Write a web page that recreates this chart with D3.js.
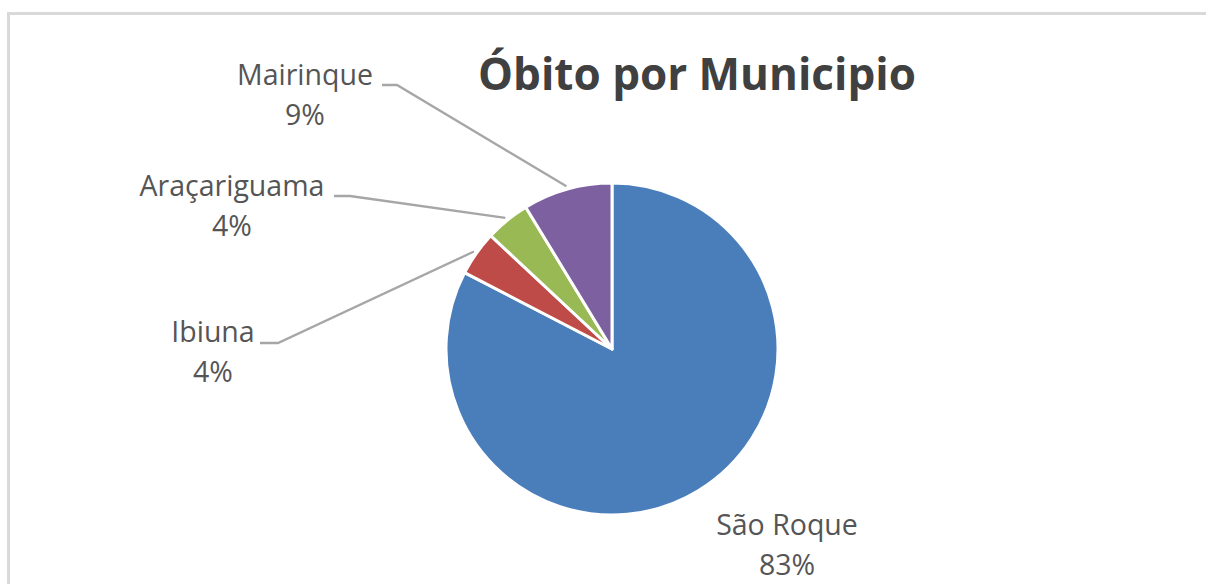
<!DOCTYPE html>
<html>
<head>
<meta charset="utf-8">
<script src="https://cdn.jsdelivr.net/npm/d3@7"></script>
<style>
  body { margin: 0; background: #fff; }
  svg { display: block; }
</style>
</head>
<body>
<div id="chart"></div>
<script>
// data (counts that give 83% / 4% / 4% / 9%)
var municipios = ["São Roque", "Ibiuna", "Araçariguama", "Mairinque"];
var obitos = [19, 1, 1, 2];
var cores = ["#4a7ebb", "#be4b48", "#98b954", "#7d60a0"];
// label anchors and leader-line elbows for each slice
var labelPos = [[787, 535], [213, 342], [232, 196], [305, 85]];
var elbows = [null, [[260, 343], [278, 343]], [[334, 196], [350, 196]], [[382, 85], [397, 85]]];

var width = 1206, height = 584;
var cx = 612, cy = 349, radius = 166;

var svg = d3.select("#chart")
  .append("svg")
  .attr("width", width)
  .attr("height", height);

// chart frame (runs off the right and bottom edges)
svg.append("rect")
  .attr("x", 8.5)
  .attr("y", 13.5)
  .attr("width", 1300)
  .attr("height", 700)
  .attr("fill", "#fff")
  .attr("stroke", "#d9d9d9")
  .attr("stroke-width", 3);

// title
svg.append("text")
  .attr("x", 697)
  .attr("y", 90)
  .attr("text-anchor", "middle")
  .style("font-family", "'Open Sans', sans-serif")
  .style("font-weight", "bold")
  .style("font-size", "44px")
  .style("fill", "#404040")
  .text("Óbito por Municipio");

var total = d3.sum(obitos);
var pct = d3.format(".0%");

var pie = d3.pie().sort(null).value(function(d) { return d; });
var arcs = pie(obitos);

var arc = d3.arc().innerRadius(0).outerRadius(radius);

var g = svg.append("g")
  .attr("transform", "translate(" + cx + "," + cy + ")");

g.selectAll("path")
  .data(arcs)
  .enter()
  .append("path")
  .attr("d", arc)
  .attr("fill", function(d, i) { return cores[i]; })
  .attr("stroke", "#fff")
  .attr("stroke-width", 3)
  .attr("stroke-linejoin", "round");

// leader lines from elbow to slice mid-point
var edge = d3.arc().innerRadius(radius + 3).outerRadius(radius + 3);
arcs.forEach(function(d, i) {
  if (!elbows[i]) return;
  var p = edge.centroid(d);
  var pts = elbows[i].concat([[p[0] + cx, p[1] + cy]]);
  svg.append("path")
    .attr("d", d3.line()(pts))
    .attr("fill", "none")
    .attr("stroke", "#a6a6a6")
    .attr("stroke-width", 2.3);
});

// data labels
arcs.forEach(function(d, i) {
  var t = svg.append("text")
    .attr("text-anchor", "middle")
    .style("font-family", "'Open Sans', sans-serif")
    .style("font-size", "28.5px")
    .style("fill", "#555555");
  t.append("tspan")
    .attr("x", labelPos[i][0])
    .attr("y", labelPos[i][1])
    .text(municipios[i]);
  t.append("tspan")
    .attr("x", labelPos[i][0])
    .attr("y", labelPos[i][1] + 40)
    .text(pct(d.data / total));
});
</script>
</body>
</html>
